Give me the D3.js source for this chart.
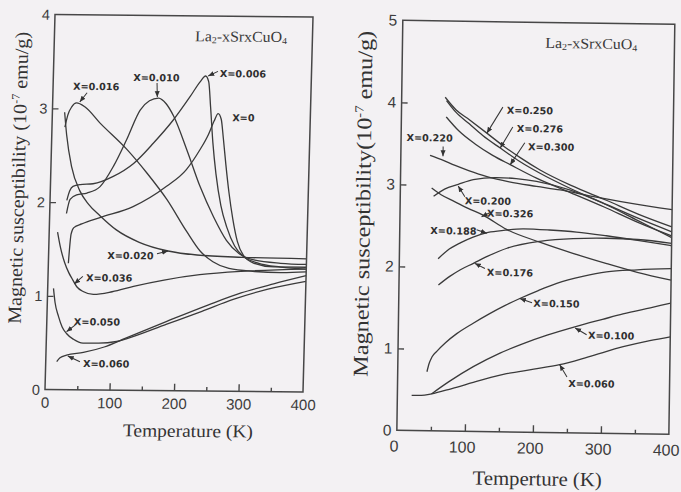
<!DOCTYPE html>
<html>
<head>
<meta charset="utf-8">
<script src="https://cdn.jsdelivr.net/npm/d3@7"></script>
<style>
  html, body { margin: 0; padding: 0; background: #f3f1f3; }
  svg { display: block; }
</style>
</head>
<body>
<svg id="fig" width="681" height="492"></svg>
<script>
// ---------- Left panel: lightly doped samples (T in K, chi in 1e-7 emu/g) ----------
const lowX0    = [[31,1.35],[34,1.66],[38,1.73],[50,1.77],[78,1.84],[129,1.96],[180,2.18],[210,2.36],[230,2.57],[243,2.74],[251,2.88],[257,2.96],[262,2.9],[266,2.7],[271,2.42],[277,2.12],[284,1.84],[292,1.6],[302,1.45],[318,1.37],[350,1.33],[400,1.33]];
const lowX006  = [[26,2.02],[30,2.12],[35,2.17],[46,2.19],[66,2.2],[97,2.28],[128,2.42],[158,2.64],[188,2.89],[213,3.14],[228,3.3],[236,3.36],[241,3.3],[245,3.03],[250,2.65],[256,2.32],[265,1.98],[275,1.75],[288,1.55],[302,1.44],[325,1.37],[360,1.33],[400,1.31]];
const lowX010  = [[26,1.88],[31,2.03],[41,2.08],[57,2.1],[77,2.17],[97,2.39],[116,2.67],[136,2.99],[150,3.09],[164,3.12],[176,3.06],[188,2.93],[210,2.57],[232,2.18],[254,1.86],[275,1.61],[295,1.47],[320,1.4],[360,1.37],[400,1.36]];
const lowX016  = [[20,2.8],[24,2.93],[30,3.02],[37,3.06],[50,3.02],[74,2.85],[117,2.57],[149,2.32],[181,2.04],[213,1.7],[235,1.49],[255,1.38],[280,1.31],[320,1.28],[360,1.27],[400,1.28]];
const lowX020  = [[19,2.96],[23,2.72],[32,2.38],[46,2.12],[60,1.98],[78,1.86],[104,1.71],[140,1.58],[185,1.49],[230,1.45],[300,1.43],[400,1.42]];
const lowX036  = [[13,1.68],[18,1.52],[25,1.36],[32,1.25],[37,1.19],[45,1.1],[55,1.05],[71,1.02],[100,1.05],[133,1.11],[180,1.18],[235,1.24],[300,1.28],[400,1.31]];
const lowX050  = [[9,1.08],[12,0.93],[18,0.78],[24,0.67],[31,0.6],[42,0.54],[57,0.5],[80,0.5],[109,0.52],[124,0.55],[186,0.71],[240,0.85],[288,0.98],[340,1.09],[400,1.18]];
const lowX060  = [[17,0.3],[22,0.34],[32,0.37],[58,0.4],[90,0.46],[124,0.56],[186,0.74],[250,0.92],[300,1.05],[350,1.15],[400,1.24]];

const lowSeries = [lowX0, lowX006, lowX010, lowX016, lowX020, lowX036, lowX050, lowX060];

// composition tags, where each tag starts (T, chi) and its pointer (from -> to)
const lowLabels   = ["X=0.016", "X=0.010", "X=0.006", "X=0", "X=0.020", "X=0.036", "X=0.050", "X=0.060"];
const lowLabelAt  = [[31,3.20],[124,3.30],[258,3.35],[279,2.88],[91,1.40],[59,1.16],[42,0.69],[58,0.244]];
const lowPointers = [[[53,3.17],[42,3.07]], [[161,3.28],[162,3.13]], [[255,3.41],[240,3.36]], null,
                     [[168,1.46],[185,1.49]], [[54,1.21],[41,1.13]], [[44,0.69],[31,0.62]], [[53,0.30],[34,0.36]]];

// ---------- Right panel: higher doping ----------
const hiX250 = [[64,4.07],[80,3.92],[100,3.8],[126,3.64],[150,3.49],[175,3.35],[205,3.2],[250,3.02],[304,2.84],[350,2.68],[400,2.53]];
const hiX276 = [[66,4.03],[80,3.89],[100,3.75],[120,3.61],[146,3.46],[175,3.3],[205,3.16],[250,2.98],[304,2.79],[350,2.63],[400,2.47]];
const hiX300 = [[66,3.83],[85,3.66],[110,3.5],[135,3.37],[161,3.26],[200,3.1],[250,2.93],[300,2.76],[350,2.58],[400,2.42]];
const hiX220 = [[43,3.36],[60,3.31],[80,3.24],[100,3.18],[127,3.11],[160,3.05],[200,3.0],[235,2.96],[280,2.89],[340,2.81],[400,2.74]];
const hiX200 = [[49,2.86],[65,2.95],[85,3.01],[107,3.07],[141,3.1],[170,3.09],[200,3.06],[250,2.96],[300,2.8],[350,2.6],[400,2.4]];
const hiX326 = [[46,2.96],[60,2.88],[80,2.8],[100,2.72],[122,2.64],[157,2.47],[206,2.32],[255,2.19],[305,2.07],[350,1.97],[400,1.88]];
const hiX188 = [[57,2.1],[70,2.2],[90,2.3],[108,2.37],[130,2.43],[155,2.46],[182,2.48],[220,2.47],[260,2.45],[304,2.41],[350,2.36],[400,2.3]];
const hiX176 = [[58,1.78],[75,1.89],[90,1.97],[109,2.05],[130,2.14],[158,2.24],[206,2.33],[255,2.37],[304,2.38],[350,2.37],[400,2.33]];
const hiX150 = [[43,0.72],[46,0.82],[50,0.9],[57,0.97],[70,1.08],[86,1.19],[110,1.32],[134,1.44],[156,1.54],[178,1.63],[205,1.73],[232,1.82],[270,1.91],[305,1.97],[350,2.0],[400,2.02]];
const hiX100 = [[50,0.45],[75,0.6],[111,0.79],[150,0.96],[184,1.08],[220,1.19],[262,1.3],[300,1.39],[330,1.46],[370,1.54],[400,1.6]];
const hiX060 = [[21,0.43],[35,0.43],[50,0.45],[80,0.52],[120,0.62],[160,0.71],[200,0.77],[238,0.83],[280,0.93],[331,1.06],[370,1.14],[400,1.19]];

const hiSeries = [hiX250, hiX276, hiX300, hiX220, hiX200, hiX326, hiX188, hiX176, hiX150, hiX100, hiX060];

const hiLabels   = ["X=0.250", "X=0.276", "X=0.300", "X=0.220", "X=0.200", "X=0.326", "X=0.188", "X=0.176", "X=0.150", "X=0.100", "X=0.060"];
const hiLabelAt  = [[155,3.88],[170,3.66],[187,3.44],[8,3.53],[95,2.77],[128,2.62],[45,2.40],[129,1.90],[198,1.53],[279,1.15],[251,0.56]];
const hiPointers = [[[149,3.96],[126,3.64]], [[164,3.72],[146,3.46]], [[182,3.53],[161,3.26]], [[62,3.47],[62,3.35]],
                    [[95,2.86],[85,2.99]], [[132,2.67],[120,2.62]], [[113,2.46],[128,2.42]], [[126,1.99],[111,2.05]],
                    [[196,1.58],[178,1.63]], [[277,1.20],[260,1.28]], [[249,0.68],[238,0.83]]];

// ---------- Axis ticks ----------
const xTickLabels = [0, 100, 200, 300, 400];
const xMajorTicks = [100, 200, 300];
const xMinorTicks = [50, 150, 250, 350];
const lowYTicks = [0, 1, 2, 3, 4];
const hiYTicks  = [0, 1, 2, 3, 4, 5];

const svg = d3.select("#fig");

const defs = svg.append("defs");
defs.append("marker")
  .attr("id", "head")
  .attr("markerUnits", "userSpaceOnUse")
  .attr("markerWidth", 7).attr("markerHeight", 6)
  .attr("refX", 6).attr("refY", 2.5)
  .attr("orient", "auto")
  .append("path").attr("d", "M0,0 L6,2.5 L0,5 Z").attr("fill", "#333");

const INK = "#3a3a3a";

function drawPanel(p) {
  const g = svg.append("g").attr("transform", `matrix(${p.m.join(",")})`);
  const x = d3.scaleLinear().domain([0, 400]).range([0, p.w]);
  const y = d3.scaleLinear().domain([0, p.ymax]).range([p.h, 0]);

  // data curves
  const line = d3.line().x(d => x(d[0])).y(d => y(d[1])).curve(d3.curveMonotoneX);
  g.append("g").selectAll("path").data(p.series).join("path")
    .attr("d", line)
    .attr("fill", "none")
    .attr("stroke", INK)
    .attr("stroke-width", 1.3)
    .attr("stroke-linejoin", "round");

  // frame
  g.append("rect").attr("width", p.w).attr("height", p.h)
    .attr("fill", "none").attr("stroke", "#474747").attr("stroke-width", 1.5);

  const strip = sel => sel.call(s => s.select(".domain").remove());

  // inward ticks on the bottom edge
  g.append("g").attr("transform", `translate(0,${p.h})`)
    .call(d3.axisTop(x).tickValues(xMajorTicks).tickSize(7).tickFormat(""))
    .call(strip).selectAll("line").attr("stroke", "#474747").attr("stroke-width", 1.4);
  g.append("g").attr("transform", `translate(0,${p.h})`)
    .call(d3.axisTop(x).tickValues(xMinorTicks).tickSize(4).tickFormat(""))
    .call(strip).selectAll("line").attr("stroke", "#474747").attr("stroke-width", 1.4);

  // inward ticks on the left edge
  g.append("g")
    .call(d3.axisRight(y).tickValues(p.yTicks.filter(v => v > 0 && v < p.ymax)).tickSize(6).tickFormat(""))
    .call(strip).selectAll("line").attr("stroke", "#474747").attr("stroke-width", 1.4);

  // tick labels
  const xl = g.append("g").attr("transform", `translate(0,${p.h})`)
    .call(d3.axisBottom(x).tickValues(xTickLabels).tickSize(0).tickPadding(p.xPad).tickFormat(d3.format("d")))
    .call(strip);
  xl.selectAll("text").attr("font-family", "'Liberation Sans', Arial, sans-serif")
    .attr("font-size", p.tickFont).attr("fill", "#3d3d3d").attr("dx", p.xLabelDx);

  const yl = g.append("g")
    .call(d3.axisLeft(y).tickValues(p.yTicks).tickSize(0).tickPadding(p.yPad).tickFormat(d3.format("d")))
    .call(strip);
  yl.selectAll("text").attr("font-family", "'Liberation Sans', Arial, sans-serif")
    .attr("font-size", p.tickFont - 0.5).attr("fill", "#3d3d3d");

  // axis titles
  g.append("text")
    .attr("x", p.xTitleX).attr("y", p.h + p.xTitleDy)
    .attr("text-anchor", "middle")
    .attr("font-family", "'Liberation Serif', 'Times New Roman', serif")
    .attr("font-size", p.xTitleFont).attr("fill", "#333")
    .attr("textLength", p.xTitleLen).attr("lengthAdjust", "spacingAndGlyphs")
    .text(p.xTitle);

  const yt = g.append("text")
    .attr("transform", `translate(${p.yTitleX},${p.h / 2 + p.yTitleDy}) rotate(-90)`)
    .attr("text-anchor", "middle")
    .attr("font-family", "'Liberation Serif', 'Times New Roman', serif")
    .attr("font-size", p.yTitleFont).attr("fill", "#333")
    .attr("textLength", p.yTitleLen).attr("lengthAdjust", "spacingAndGlyphs");
  yt.append("tspan").text(p.yTitleA);
  yt.append("tspan").attr("dy", -p.yTitleFont * 0.38).attr("font-size", p.yTitleFont * 0.6).text("-7");
  yt.append("tspan").attr("dy", p.yTitleFont * 0.38).text(" emu/g)");

  // compound name
  const t = g.append("text")
    .attr("x", x(p.nameAt[0])).attr("y", y(p.nameAt[1]))
    .attr("font-family", "'Liberation Serif', 'Times New Roman', serif")
    .attr("font-size", p.nameFont).attr("fill", "#3a3a3a")
    .attr("textLength", p.nameLen).attr("lengthAdjust", "spacingAndGlyphs");
  t.append("tspan").text("La");
  t.append("tspan").attr("font-size", p.nameFont * 0.62).attr("dy", 2).text("2");
  t.append("tspan").attr("dy", -2).text("-xSrxCuO");
  t.append("tspan").attr("font-size", p.nameFont * 0.62).attr("dy", 2).text("4");

  // composition tags with pointers
  g.append("g").selectAll("text").data(p.labels).join("text")
    .attr("x", (d, i) => x(p.labelAt[i][0]))
    .attr("y", (d, i) => y(p.labelAt[i][1]))
    .attr("font-family", "'DejaVu Sans', Verdana, sans-serif")
    .attr("font-weight", "bold")
    .attr("font-size", 9.7)
    .attr("fill", "#2f2f2f")
    .text(d => d);

  g.append("g").selectAll("line").data(p.pointers.filter(d => d)).join("line")
    .attr("x1", d => x(d[0][0])).attr("y1", d => y(d[0][1]))
    .attr("x2", d => x(d[1][0])).attr("y2", d => y(d[1][1]))
    .attr("stroke", "#333").attr("stroke-width", 1)
    .attr("marker-end", "url(#head)");
}

drawPanel({
  m: [1, 0.0091, -0.0267, 1, 55, 14.6], w: 258, h: 375, ymax: 4,
  yTicks: lowYTicks, series: lowSeries,
  labels: lowLabels, labelAt: lowLabelAt, pointers: lowPointers,
  tickFont: 15, xPad: 7.5, yPad: 5, xLabelDx: 0,
  xTitle: "Temperature (K)", xTitleX: 144, xTitleDy: 46, xTitleFont: 18, xTitleLen: 130,
  yTitleA: "Magnetic susceptibility (10", yTitleX: -26, yTitleDy: -24, yTitleFont: 19, yTitleLen: 292,
  nameAt: [218, 3.73], nameFont: 15, nameLen: 92
});

drawPanel({
  m: [1, 0.0147, -0.0145, 1, 402.8, 20.35], w: 272, h: 410, ymax: 5,
  yTicks: hiYTicks, series: hiSeries,
  labels: hiLabels, labelAt: hiLabelAt, pointers: hiPointers,
  tickFont: 16, xPad: 10, yPad: 5.5, xLabelDx: -3,
  xTitle: "Temperture (K)", xTitleX: 141, xTitleDy: 53, xTitleFont: 20, xTitleLen: 129,
  yTitleA: "Magnetic susceptibility(10", yTitleX: -30, yTitleDy: -21, yTitleFont: 21, yTitleLen: 346,
  nameAt: [210, 4.69], nameFont: 15, nameLen: 92
});
</script>
</body>
</html>
